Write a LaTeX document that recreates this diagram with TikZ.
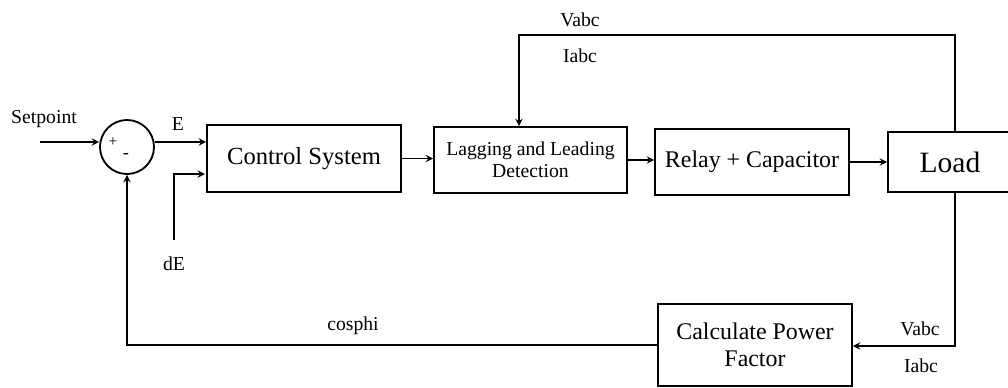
\documentclass[tikz,border=0pt]{standalone}
\usepackage{fontspec}
\setmainfont{Liberation Serif}
\usepackage{tikz}
\pgfdeclarelayer{nodelayer}
\pgfdeclarelayer{edgelayer}
\pgfsetlayers{edgelayer,nodelayer,main}
\tikzstyle{box}=[fill=white, draw=black, line width=1.3pt, shape=rectangle, align=center, inner sep=2pt, minimum width=4.85cm, minimum height=1.65cm, font=\fontsize{17}{19}\selectfont]
\tikzstyle{sum}=[fill=white, draw=black, line width=1.3pt, shape=circle, minimum size=1.35cm, inner sep=0pt]
\tikzstyle{label}=[inner sep=0pt, font=\fontsize{14}{16}\selectfont]
\tikzstyle{directed edge}=[->, >=stealth, line width=1.3pt]

\begin{document}
\begin{tikzpicture}[x=0.025cm, y=-0.025cm]
	\useasboundingbox (0, 0) rectangle (1008, 388);
	\begin{pgfonlayer}{nodelayer}
		\node [style=sum] (0) at (127, 147) {};
		\node [style=box, minimum height=1.675cm, font=\fontsize{17.5}{20}\selectfont] (1) at (304, 158.5) {Control System};
		\node [style=box, minimum width=4.825cm, font=\fontsize{14}{16}\selectfont] (2) at (530.5, 160) {Lagging and Leading\\Detection};
		\node [style=box] (3) at (752, 162) {Relay + Capacitor};
		\node [style=box, minimum width=3.1cm, minimum height=1.5cm, font=\fontsize{21}{24}\selectfont] (4) at (950, 162) {Load};
		\node [style=box, minimum height=2.05cm] (5) at (755, 345) {Calculate Power\\Factor};
		\node [style=label] (6) at (44, 119) {Setpoint};
		\node [style=label] (7) at (178, 124) {E};
		\node [style=label] (8) at (174, 264) {dE};
		\node [style=label] (9) at (580, 20) {Vabc};
		\node [style=label] (10) at (580, 56) {Iabc};
		\node [style=label] (11) at (920, 329) {Vabc};
		\node [style=label] (12) at (921, 366) {Iabc};
		\node [style=label] (13) at (353, 326) {cosphi};
		\node [inner sep=0pt, font=\fontsize{11}{13}\selectfont] (14) at (113, 142) {+};
		\node [inner sep=0pt, font=\fontsize{13}{15}\selectfont] (15) at (126, 156) {-};
	\end{pgfonlayer}
	\coordinate (16) at (40, 142);
	\coordinate (17) at (174, 240);
	\coordinate (18) at (205, 174);
	\coordinate (19) at (955, 35);
	\coordinate (20) at (519, 35);
	\coordinate (21) at (955, 346);
	\begin{pgfonlayer}{edgelayer}
		\draw [style=directed edge] (16) to (16 -| 0.west);
		\draw [style=directed edge] (0.east |- 16) to (16 -| 1.west);
		\draw [style=directed edge] (17) |- (18);
		\draw [style=directed edge] (1.east) to (1.east -| 2.west);
		\draw [style=directed edge] (2.east) to (2.east -| 3.west);
		\draw [style=directed edge] (3.east) to (3.east -| 4.west);
		\draw [style=directed edge] (19 |- 4.north) -- (19) -- (20) -- (20 |- 2.north);
		\draw [style=directed edge] (21 |- 4.south) -- (21) -- (21 -| 5.east);
		\draw [style=directed edge] (5.west) -| (0.south);
	\end{pgfonlayer}
\end{tikzpicture}
\end{document}
